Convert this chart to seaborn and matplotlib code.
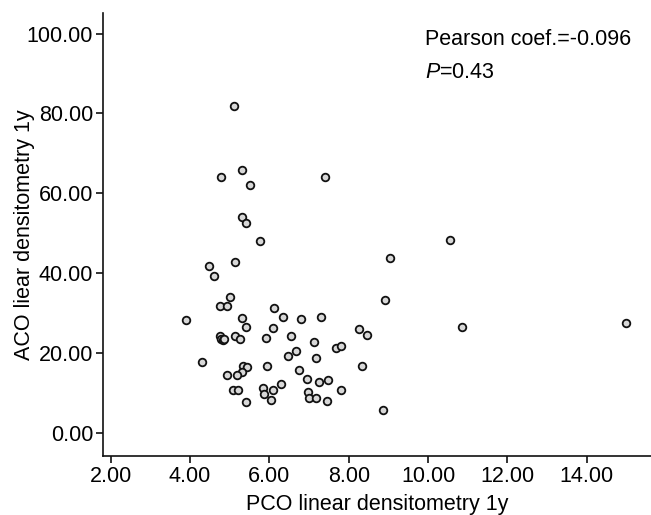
import numpy as np
import pandas as pd
import matplotlib
matplotlib.use('Agg')
import matplotlib.pyplot as plt
import seaborn as sns

# ── data ─────────────────────────────────────────────────────────────
pco = [5.12, 4.78, 5.30, 5.52, 7.40, 5.30, 5.40, 5.77, 4.48, 5.14,
       4.60, 10.55, 9.05, 5.00, 4.75, 4.93, 3.90, 5.30, 6.12, 6.35,
       6.80, 7.29, 5.40, 6.09, 8.92, 10.85, 14.99, 8.25, 8.45, 4.75,
       4.78, 4.83, 4.86, 5.14, 5.25, 5.92, 6.55, 7.13, 7.67, 7.80,
       6.67, 6.47, 7.18, 4.30, 5.95, 5.34, 5.43, 5.30, 5.19, 4.94,
       6.75, 6.95, 7.48, 7.24, 6.30, 5.84, 6.09, 5.09, 5.20, 7.80,
       5.87, 6.97, 6.99, 7.18, 6.03, 7.45, 5.40, 8.34, 8.87]
aco = [81.75, 64.2, 65.75, 62.2, 64.2, 54.2, 52.7, 48.1, 41.9, 42.8,
       39.4, 48.4, 43.9, 34.1, 31.75, 31.75, 28.2, 28.8, 31.25, 29.0,
       28.5, 29.0, 26.6, 26.4, 33.4, 26.5, 27.5, 26.0, 24.5, 24.2,
       23.6, 23.3, 23.5, 24.25, 23.5, 23.9, 24.25, 22.75, 21.4, 21.7,
       20.5, 19.4, 18.8, 17.7, 16.8, 16.75, 16.6, 15.25, 14.6, 14.5,
       15.9, 13.5, 13.4, 12.7, 12.2, 11.3, 10.9, 10.8, 10.9, 10.7,
       9.8, 10.3, 8.75, 8.75, 8.25, 8.1, 7.75, 16.75, 5.8]

x_ticks = [2, 4, 6, 8, 10, 12, 14]
y_ticks = [0, 20, 40, 60, 80, 100]
stats_lines = ["Pearson coef.=-0.096", r"$\it{P}$=0.43"]

df = pd.DataFrame({'pco': pco, 'aco': aco})

# ── style ────────────────────────────────────────────────────────────
sns.set_style('ticks')
plt.rcParams['font.family'] = ['Liberation Sans', 'DejaVu Sans']
plt.rcParams['text.color'] = 'black'
plt.rcParams['axes.labelcolor'] = 'black'
plt.rcParams['xtick.color'] = 'black'
plt.rcParams['ytick.color'] = 'black'
plt.rcParams['mathtext.fontset'] = 'custom'
plt.rcParams['mathtext.it'] = 'Liberation Sans:italic'
plt.rcParams['mathtext.rm'] = 'Liberation Sans'

FS = 15.5

fig = plt.figure(figsize=(6.51, 5.15), dpi=100)
ax = fig.add_axes([0.1578, 0.1146, 0.8422, 0.8607])

sns.scatterplot(data=df, x='pco', y='aco', ax=ax, s=30,
                color='#d8d8d8', edgecolor='#111111', linewidth=1.3,
                legend=False)

ax.set_xlim(1.80, 15.62)
ax.set_ylim(-5.7, 105.2)
ax.set_xticks(x_ticks)
ax.set_yticks(y_ticks)
ax.set_xticklabels([f'{v:.2f}' for v in x_ticks])
ax.set_yticklabels([f'{v:.2f}' for v in y_ticks])
ax.tick_params(axis='both', labelsize=FS, length=5, width=1.2,
               color='#111111', direction='out', pad=2)

ax.set_xlabel('PCO linear densitometry 1y', fontsize=FS, labelpad=5.5)
ax.set_ylabel('ACO liear densitometry 1y', fontsize=FS)
ax.yaxis.set_label_coords(-0.123, 0.5)

sns.despine(ax=ax)
for side in ['left', 'bottom']:
    ax.spines[side].set_linewidth(1.2)
    ax.spines[side].set_color('#111111')

ax.text(0.588, 0.963, stats_lines[0], transform=ax.transAxes,
        fontsize=FS, ha='left', va='top')
ax.text(0.588, 0.889, stats_lines[1], transform=ax.transAxes,
        fontsize=FS, ha='left', va='top')

fig.savefig('out.png', dpi=100)
